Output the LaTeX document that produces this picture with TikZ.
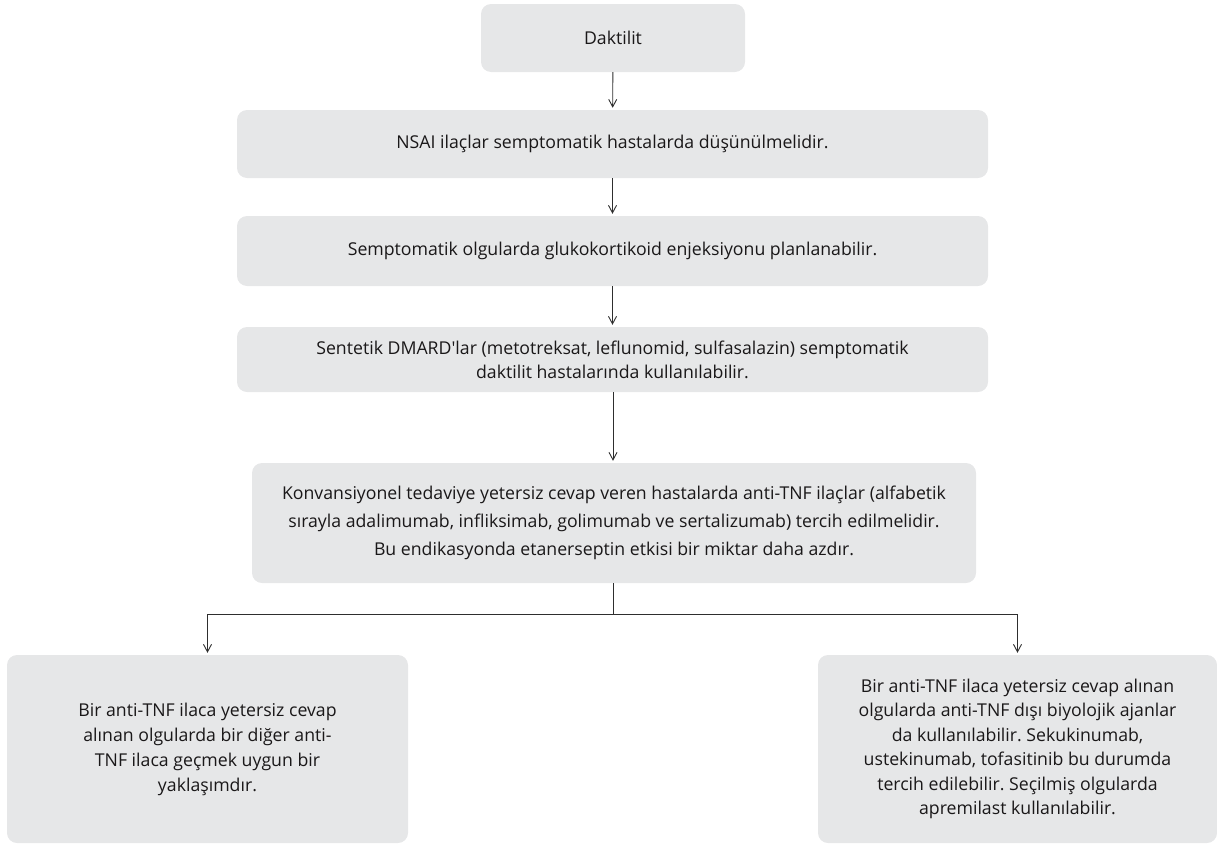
\documentclass[tikz,border=0pt]{standalone}
\usepackage{fontspec}
\setmainfont{Open Sans}[Ligatures=TeXOff]
\usetikzlibrary{arrows.meta}
\definecolor{boxfill}{HTML}{E6E7E8}
\definecolor{txtc}{HTML}{1A1819}
\definecolor{linec}{HTML}{2E2E2E}
\tikzset{
  box/.style={fill=boxfill, rounded corners=10pt, inner sep=0pt, align=center, text=txtc},
  arr/.style={draw=linec, line width=0.9pt, -{Straight Barb[length=7.5pt,width=8pt]}, shorten >=2pt},
  plain/.style={draw=linec, line width=0.9pt}
}
\frenchspacing
\begin{document}
\frenchspacing
\begin{tikzpicture}[x=1pt,y=-1pt]
\useasboundingbox (0,0) rectangle (1217,846);
\node[box, minimum width=264pt, minimum height=68pt, font=\fontsize{17.7}{24}\selectfont] (b1) at (613,38) {Daktilit};
\node[box, minimum width=751pt, minimum height=68pt, font=\fontsize{17.7}{24}\selectfont] (b2) at (612.5,144) {NSAI ilaçlar semptomatik hastalarda düşünülmelidir.};
\node[box, minimum width=751pt, minimum height=70pt, font=\fontsize{17.7}{24}\selectfont] (b3) at (612.5,251) {Semptomatik olgularda glukokortikoid enjeksiyonu planlanabilir.};
\node[box, minimum width=751pt, minimum height=65pt, font=\fontsize{17.7}{24}\selectfont] (b4) at (612.5,359.5) {Sentetik DMARD'lar (metotreksat, leflunomid, sulfasalazin) semptomatik\\daktilit hastalarında kullanılabilir.};
\node[box, minimum width=724pt, minimum height=120pt, font=\fontsize{17.7}{28}\selectfont] (b5) at (614,523) {Konvansiyonel tedaviye yetersiz cevap veren hastalarda anti-TNF ilaçlar (alfabetik\\sırayla adalimumab, infliksimab, golimumab ve sertalizumab) tercih edilmelidir.\\Bu endikasyonda etanerseptin etkisi bir miktar daha azdır.};
\node[box, minimum width=401pt, minimum height=188pt, font=\fontsize{17.7}{25}\selectfont] (b6) at (207.5,749) {Bir anti-TNF ilaca yetersiz cevap\\alınan olgularda bir diğer anti-\\TNF ilaca geçmek uygun bir\\yaklaşımdır.};
\node[box, minimum width=399pt, minimum height=188pt, font=\fontsize{17.7}{24.5}\selectfont] (b7) at (1017.5,749) {Bir anti-TNF ilaca yetersiz cevap alınan\\olgularda anti-TNF dışı biyolojik ajanlar\\da kullanılabilir. Sekukinumab,\\ustekinumab, tofasitinib bu durumda\\tercih edilebilir. Seçilmiş olgularda\\apremilast kullanılabilir.};
\draw[arr] (b1) -- (b2);
\draw[arr] (b2) -- (b3);
\draw[arr] (b3) -- (b4);
\draw[arr] (b4.south -| b1.south) -- (b5.north -| b1.south);
\coordinate (j) at ([yshift=-31pt]b5.south -| b1.south);
\draw[plain] (b5.south -| b1.south) -- (j);
\draw[arr] (j) -| (b6.north);
\draw[arr] (j) -| (b7.north);
\end{tikzpicture}
\end{document}
